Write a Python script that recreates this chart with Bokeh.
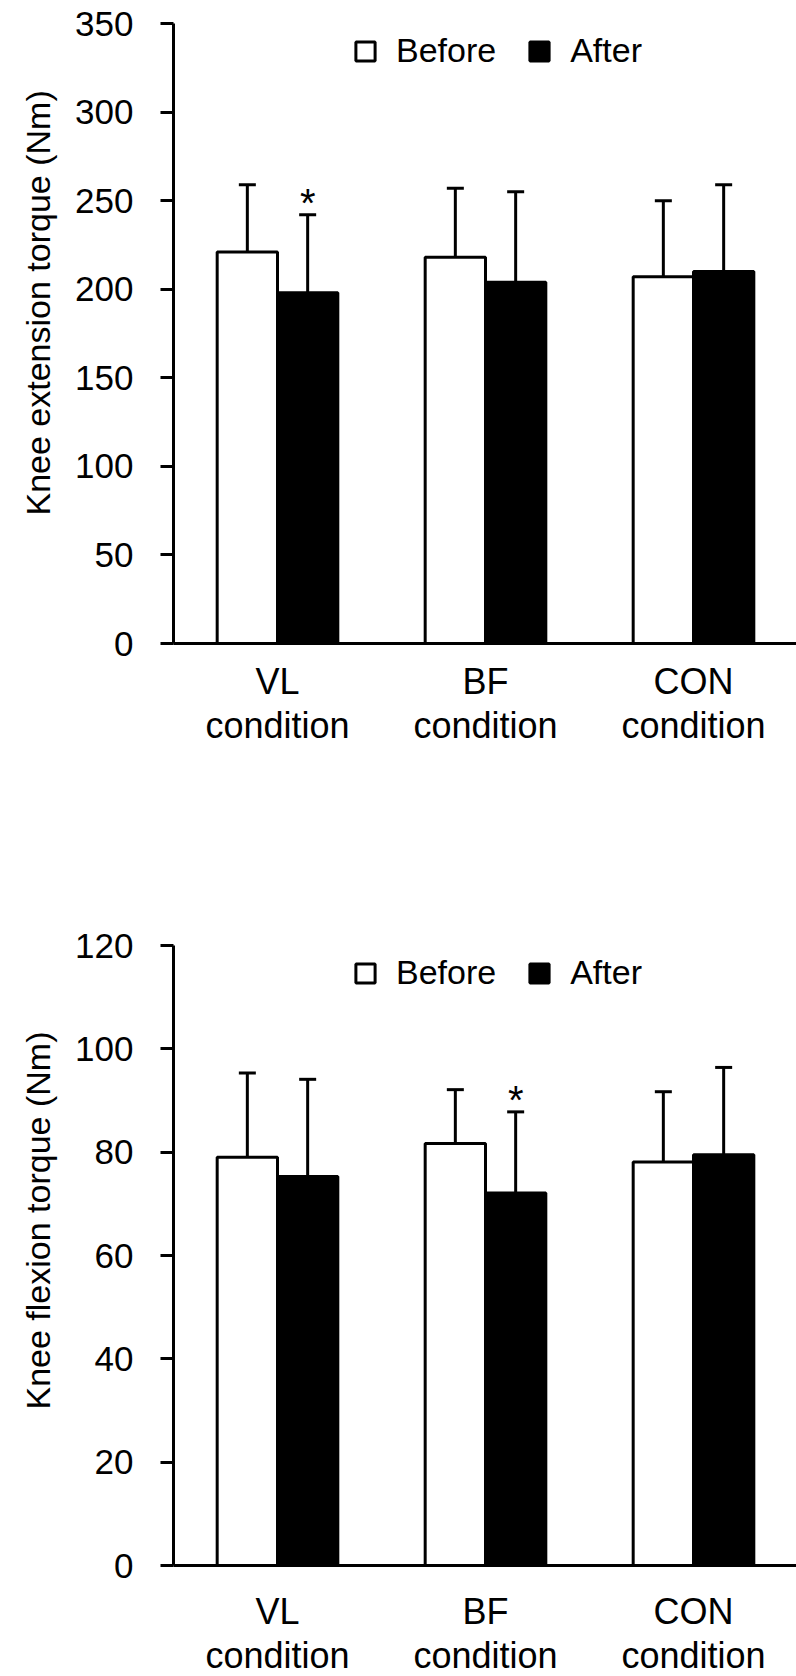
from bokeh.plotting import figure
from bokeh.models import (ColumnDataSource, Whisker, TeeHead, Range1d,
                          Legend, LegendItem, LinearAxis, FixedTicker, Title)
from bokeh.transform import dodge
from bokeh.layouts import column
from bokeh.core.properties import value
from bokeh.embed import file_html
from bokeh.resources import INLINE

# ---------------- data ----------------
categories = ["VL", "BF", "CON"]
label_line2 = ["condition", "condition", "condition"]

ext_before = [221, 218, 207]
ext_before_sd = [38, 39, 43]
ext_after = [198, 204, 210]
ext_after_sd = [44, 51, 49]
ext_ticks = [0, 50, 100, 150, 200, 250, 300, 350]
ext_star = ["VL"]  # significant After bar

flex_before = [79.0, 81.7, 78.1]
flex_before_sd = [16.3, 10.4, 13.6]
flex_after = [75.3, 72.1, 79.5]
flex_after_sd = [18.8, 15.7, 16.9]
flex_ticks = [0, 20, 40, 60, 80, 100, 120]
flex_star = ["BF"]

FONT = "Liberation Sans"
FRAME_W = 624
FRAME_H = 620


def make_chart(before, before_sd, after, after_sd, ticks, ylabel, star,
               border_bottom, label_standoff, title_offset):
    # category i occupies the slot [i, i+1] on a numeric axis
    n = len(categories)
    centers = [i + 0.5 for i in range(n)]
    src = ColumnDataSource(dict(
        x=centers,
        cat=categories,
        before=before,
        after=after,
        before_hi=[b + s for b, s in zip(before, before_sd)],
        after_hi=[a + s for a, s in zip(after, after_sd)],
    ))
    p = figure(x_range=Range1d(0, n), y_range=Range1d(ticks[0], ticks[-1]),
               frame_width=FRAME_W, frame_height=FRAME_H,
               min_border_left=170, min_border_right=0, min_border_top=23,
               min_border_bottom=border_bottom, x_axis_location=None,
               output_backend="svg", toolbar_location=None)
    p.outline_line_color = None
    p.xgrid.visible = False
    p.ygrid.visible = False
    p.background_fill_color = "white"
    p.border_fill_color = "white"

    off = 0.145
    w = 0.29
    xb = dodge("x", -off)
    xa = dodge("x", off)

    rb = p.vbar(x=xb, top="before", width=w, source=src, fill_color="white",
                line_color="black", line_width=3)
    ra = p.vbar(x=xa, top="after", width=w, source=src, fill_color="black",
                line_color="black", line_width=3)

    for base, lo, hi in [(xb, "before", "before_hi"), (xa, "after", "after_hi")]:
        wk = Whisker(source=src, base=base, lower=lo, upper=hi, line_width=3,
                     line_color="black", lower_head=None,
                     upper_head=TeeHead(size=17, line_width=3, line_color="black"),
                     level="overlay")
        p.add_layout(wk)

    # asterisks
    idx = [categories.index(c) for c in star]
    star_src = ColumnDataSource(dict(
        x=[centers[i] for i in idx],
        y=[after[i] + after_sd[i] for i in idx],
        t=["*"] * len(idx),
    ))
    p.text(x=xa, y="y", text="t", source=star_src, text_align="center",
           text_baseline="middle", y_offset=-12, text_font=value(FONT),
           text_font_size="40px", text_color="black")

    legend = Legend(items=[LegendItem(label="Before", renderers=[rb]),
                           LegendItem(label="After", renderers=[ra])],
                    orientation="horizontal", location=(180, FRAME_H - 27 - 20),
                    glyph_width=24, glyph_height=24, label_standoff=19, spacing=31,
                    padding=0, margin=0, border_line_color=None,
                    background_fill_alpha=0, label_text_font=FONT,
                    label_text_font_size="34px", label_text_color="black")
    p.add_layout(legend)

    ya = p.yaxis[0]
    ya.ticker = ticks
    ya.major_tick_out = 13
    ya.major_tick_in = 0
    ya.minor_tick_out = 0
    ya.minor_tick_in = 0
    ya.axis_line_width = 3
    ya.major_tick_line_width = 3
    ya.axis_line_color = "black"
    ya.major_tick_line_color = "black"
    ya.major_label_text_font = FONT
    ya.major_label_text_font_size = "35px"
    ya.major_label_text_color = "black"
    ya.major_label_standoff = 27

    # y-axis title, slightly above centre
    p.add_layout(Title(text=ylabel, align="left", offset=title_offset, standoff=32,
                       text_font=FONT, text_font_size="34px",
                       text_font_style="normal", text_color="black"), "left")

    # category labels: two stacked axes (first and second line)
    ax1 = LinearAxis(ticker=FixedTicker(ticks=centers),
                     major_label_overrides={c: t for c, t in zip(centers, categories)})
    ax2 = LinearAxis(ticker=FixedTicker(ticks=centers),
                     major_label_overrides={c: t for c, t in zip(centers, label_line2)})
    for ax, so in [(ax1, label_standoff), (ax2, 0)]:
        ax.major_tick_out = 0
        ax.major_tick_in = 0
        ax.minor_tick_out = 0
        ax.minor_tick_in = 0
        ax.major_label_text_font = FONT
        ax.major_label_text_font_size = "36px"
        ax.major_label_text_color = "black"
        ax.major_label_standoff = so
    ax1.axis_line_width = 3
    ax1.axis_line_color = "black"
    ax2.axis_line_color = None
    p.add_layout(ax1, "below")
    p.add_layout(ax2, "below")
    return p


p1 = make_chart(ext_before, ext_before_sd, ext_after, ext_after_sd, ext_ticks,
                "Knee extension torque (Nm)", ext_star, 279, 17, 128)
p2 = make_chart(flex_before, flex_before_sd, flex_after, flex_after_sd, flex_ticks,
                "Knee flexion torque (Nm)", flex_star, 107, 25, 156)

layout = column(p1, p2, spacing=0)
open("out.html", "w").write(file_html(layout, INLINE))
